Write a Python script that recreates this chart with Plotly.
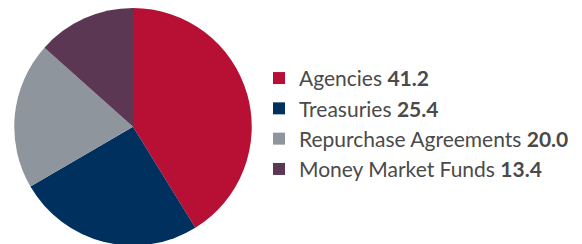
import plotly.graph_objects as go

categories = ["Agencies", "Treasuries", "Repurchase Agreements", "Money Market Funds"]
values = [41.2, 25.4, 20.0, 13.4]
colors = ["#B81035", "#00305E", "#8E959C", "#5C3753"]

labels = [f"{c} <b>{v:.1f}</b>" for c, v in zip(categories, values)]

fig = go.Figure(go.Pie(
    labels=labels,
    values=values,
    sort=False,
    direction="clockwise",
    rotation=0,
    textinfo="none",
    hoverinfo="label+percent",
    marker=dict(colors=colors, line=dict(width=0)),
    domain=dict(x=[6.25/582, 243.75/582], y=[6.5/244, 1]),
))

fig.update_layout(
    width=582, height=244,
    margin=dict(l=0, r=0, t=0, b=0),
    paper_bgcolor="white",
    plot_bgcolor="white",
    showlegend=True,
    legend=dict(
        x=251/582, y=0.525, xanchor="left", yanchor="middle",
        font=dict(family="Lato, 'Open Sans', sans-serif", size=21, color="#4A4A4A"),
        itemwidth=30,
        tracegroupgap=0,
        bgcolor="rgba(0,0,0,0)",
    ),
)

fig.write_html("out.html")
